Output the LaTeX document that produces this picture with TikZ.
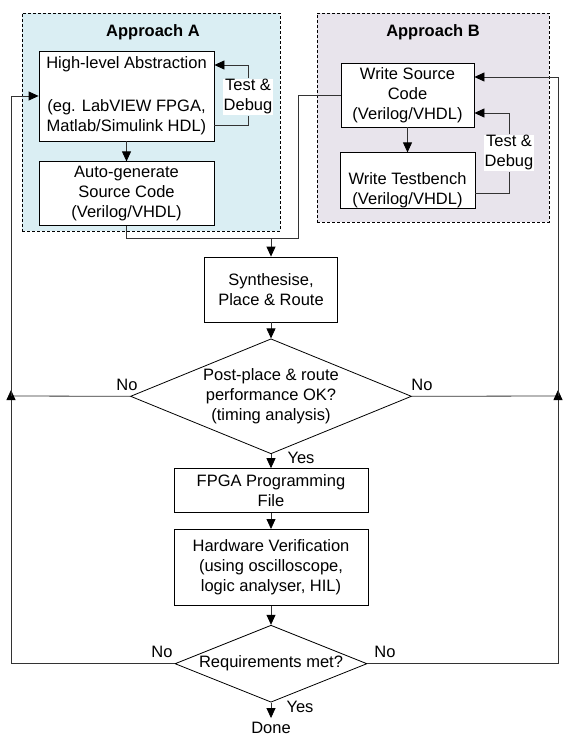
\documentclass[tikz,border=0pt]{standalone}
\usepackage{fontspec}
\setmainfont{Liberation Sans}
\usepackage{xcolor}
\usetikzlibrary{arrows.meta,positioning,shapes.geometric}
\definecolor{zoneA}{HTML}{DAEEF3}
\definecolor{zoneB}{HTML}{E8E4EC}

\begin{document}
\begin{tikzpicture}[
  x=1pt,y=-1pt,
  font=\fontsize{16.5}{20}\selectfont,
  node distance=16pt,
  box/.style={rectangle,draw,fill=white,align=center,inner sep=0pt,line width=0.8pt},
  decision/.style={shape=diamond,draw,fill=white,align=center,inner sep=0pt,aspect=2.45,line width=0.8pt},
  zone/.style={rectangle,draw,dash pattern=on 3pt off 2pt,line width=0.6pt},
  title/.style={font=\fontsize{16.5}{20}\selectfont\bfseries},
  lbl/.style={inner sep=1pt,align=center},
  line/.style={line width=0.8pt,black!80},
  arr/.style={line,-{Triangle[width=9pt,length=10pt,black]}}
]
\useasboundingbox (0,0) rectangle (562,738);

% approach areas
\node[zone,fill=zoneA,minimum width=258pt,minimum height=218pt] (appA) at (151,122) {};
\node[zone,fill=zoneB,minimum width=232pt,minimum height=209pt] (appB) at (433,117.5) {};
\node[title] (titA) at (153,32) {Approach A};
\node[title] (titB) at (433,32) {Approach B};

\node[box,minimum width=175pt,minimum height=90pt] (hl) at (126.5,96) {High-level Abstraction\\[23pt](eg. LabVIEW FPGA,\\Matlab/Simulink HDL)};
\node[box,minimum width=175pt,minimum height=64pt,below=20pt of hl] (auto) {Auto-generate\\Source Code\\(Verilog/VHDL)};
\node[lbl,fill=white] (dbgA) at (248,97) {Test \&\\Debug};

\node[box,minimum width=133pt,minimum height=64pt] (wsc) at (407.5,95) {Write Source\\Code\\(Verilog/VHDL)};
\node[box,minimum width=135pt,minimum height=55pt,below=25pt of wsc] (tb) {\mbox{}\\[12pt]Write Testbench\\(Verilog/VHDL)};
\node[lbl,fill=white] (dbgB) at (509,153) {Test \&\\Debug};

% main flow
\node[box,minimum width=133pt,minimum height=65pt] (synth) at (271,289.5) {Synthesise,\\Place \& Route};
\node[decision,minimum width=281pt,minimum height=115pt,below=16pt of synth] (post) {Post-place \& route\\performance OK?\\(timing analysis)};
\node[box,minimum width=194pt,minimum height=44pt,below=14pt of post] (fpga) {FPGA Programming\\File};
\node[box,minimum width=194pt,minimum height=76pt,below=16pt of fpga] (hw) {Hardware Verification\\(using oscilloscope,\\logic analyser, HIL)};
\node[decision,minimum width=192pt,minimum height=77pt,below=19pt of hw] (req) {Requirements met?};
\node[lbl,inner ysep=4pt] (done) at (271,728) {Done};

\node[lbl] (noA) at (127,385) {No};
\node[lbl] (noB) at (422,385) {No};
\node[lbl] (noC) at (162,652) {No};
\node[lbl] (noD) at (385,652) {No};
\node[lbl] (yesA) at (301,458) {Yes};
\node[lbl] (yesB) at (300,707) {Yes};

\coordinate (mB) at (298,238);
\coordinate (mC) at (271,238);
\coordinate (jl) at (11,396);
\coordinate (jr) at (558,396);

\draw[arr] (hl) -- (auto);
\draw[line] ([yshift=-29pt]hl.east) -| (dbgA.south);
\draw[arr] (dbgA.north) |- ([yshift=31pt]hl.east);
\draw[arr] (wsc) -- (tb);
\draw[line] ([yshift=-12.5pt]tb.east) -| (dbgB.south);
\draw[arr] (dbgB.north) |- ([yshift=-18pt]wsc.east);

\draw[line] (auto.south) |- (mB) |- (wsc.west);
\draw[arr] (mC) -- (synth);
\draw[arr] (synth) -- (post);
\draw[arr] (post) -- (fpga);
\draw[arr] (fpga) -- (hw);
\draw[arr] (hw) -- (req);
\draw[arr] (req) -- (done);

% feedback
\draw[line] (post.west) -- (jl);
\draw[line] (post.east) -- (jr);
\draw[arr,shorten >=-6pt] (req.west) -| (jl);
\draw[arr,shorten >=-6pt] (req.east) -| (jr);
\draw[arr] (jl) |- (hl.west);
\draw[arr] (jr) |- ([yshift=18pt]wsc.east);
\end{tikzpicture}
\end{document}
